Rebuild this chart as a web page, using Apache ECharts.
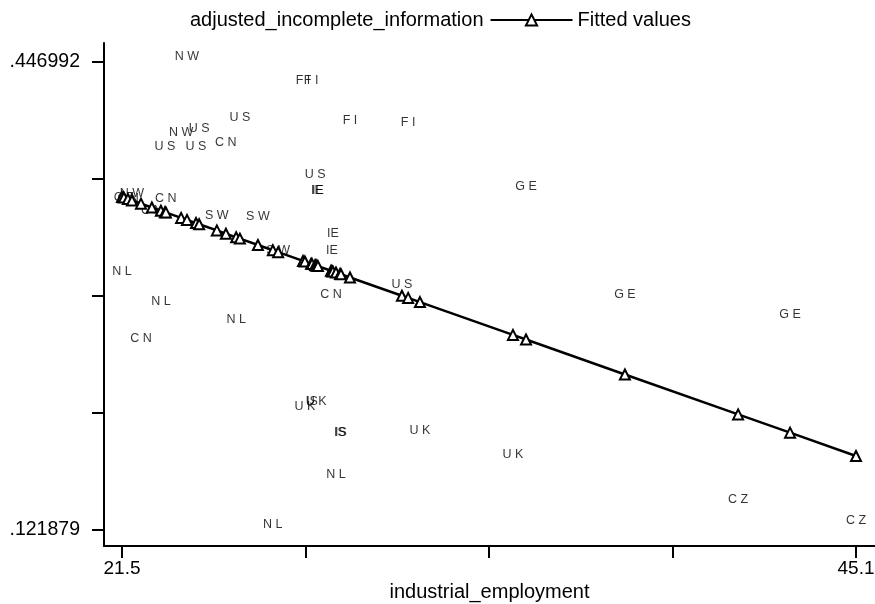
<!DOCTYPE html>
<html>
<head>
  <meta charset="utf-8">
  <title>industrial_employment</title>
  <script src="https://cdn.jsdelivr.net/npm/echarts@6/dist/echarts.min.js"></script>
  <style>
    html, body { margin: 0; padding: 0; background: #fff; }
    #main { width: 875px; height: 604px; }
  </style>
</head>
<body>
  <div id="main"></div>
  <script type="text/javascript">
    // country labels and their (industrial_employment, adjusted_incomplete_information)
    var countries = ['NW', 'FI', 'FI', 'US', 'FI', 'FI', 'NW', 'US', 'US', 'US', 'CN',
      'US', 'IE', 'IE', 'GE', 'CZ', 'NW', 'CN', 'CN', 'CN', 'SW', 'SW', 'SW', 'IE', 'IE',
      'NL', 'US', 'CN', 'NL', 'GE', 'NL', 'GE', 'CN', 'UK', 'UK', 'IS', 'IS', 'IS', 'UK',
      'UK', 'NL', 'CZ', 'NL', 'CZ'];
    var employment = [23.59, 27.32, 27.58, 25.29, 28.83, 30.70, 23.40, 23.98, 22.88, 23.88, 24.84,
      27.71, 27.77, 27.80, 34.49, 21.56, 21.82, 21.69, 22.91, 22.46, 24.55, 25.87, 26.52, 28.28, 28.25,
      21.50, 30.50, 28.22, 22.75, 37.67, 25.17, 42.98, 22.11, 27.38, 27.74, 27.61, 28.51, 28.54, 31.08,
      34.07, 28.38, 41.31, 26.35, 45.10];
    var information = [0.44699, 0.43032, 0.43032, 0.40461, 0.40253, 0.40114, 0.39419, 0.39697, 0.38447, 0.38447, 0.38725,
      0.36502, 0.35390, 0.35390, 0.35668, 0.34904, 0.35182, 0.34835, 0.34835, 0.34001, 0.33653, 0.33584, 0.31222, 0.32403, 0.31222,
      0.29763, 0.28860, 0.28165, 0.27679, 0.28165, 0.26428, 0.26776, 0.25108, 0.20384, 0.20732, 0.20732, 0.18578, 0.18578, 0.18717,
      0.17050, 0.15661, 0.13924, 0.12188, 0.12465];

    // fitted values, sorted by industrial_employment
    var fitX = [21.50, 21.56, 21.69, 21.82, 22.11, 22.46, 22.75, 22.88, 22.91, 23.40, 23.59,
      23.88, 23.98, 24.55, 24.84, 25.17, 25.29, 25.87, 26.35, 26.52, 27.32, 27.38,
      27.58, 27.61, 27.71, 27.74, 27.77, 27.80, 28.22, 28.25, 28.28, 28.38, 28.51,
      28.54, 28.83, 30.50, 30.70, 31.08, 34.07, 34.49, 37.67, 41.31, 42.98, 45.10];
    var fitValues = [0.3532, 0.3528, 0.3518, 0.3508, 0.3486, 0.3459, 0.3437, 0.3427, 0.3425, 0.3387, 0.3373,
      0.3351, 0.3343, 0.3300, 0.3277, 0.3252, 0.3243, 0.3199, 0.3162, 0.3149, 0.3088, 0.3084,
      0.3068, 0.3066, 0.3059, 0.3056, 0.3054, 0.3052, 0.3020, 0.3017, 0.3015, 0.3008, 0.2998,
      0.2995, 0.2973, 0.2846, 0.2831, 0.2802, 0.2574, 0.2542, 0.2299, 0.2022, 0.1895, 0.1733];

    var xTicks = [21.5, 27.4, 33.3, 39.2, 45.1];
    var xLabels = [21.5, 45.1];
    var yTicks = [0.121879, 0.2031573, 0.2844355, 0.3657138, 0.446992];
    var yLabels = [0.121879, 0.446992];

    var scatterData = [];
    for (var i = 0; i < countries.length; i++) {
      scatterData.push([employment[i], information[i], countries[i]]);
    }
    var fitData = [];
    for (var j = 0; j < fitX.length; j++) {
      fitData.push([fitX[j], fitValues[j]]);
    }

    var font = 'Liberation Sans, Arial, sans-serif';
    var myChart = echarts.init(document.getElementById('main'));

    var option = {
      animation: false,
      backgroundColor: '#fff',
      textStyle: { fontFamily: font },
      legend: {
        left: 98,
        top: 5,
        itemWidth: 82,
        itemHeight: 14,
        itemGap: 6,
        selectedMode: false,
        textStyle: { fontSize: 20, color: '#000', fontFamily: font },
        data: [
          { name: 'adjusted_incomplete_information', icon: 'none' },
          { name: 'Fitted values' }
        ]
      },
      grid: { left: 104, right: 0, top: 43, bottom: 58, outerBoundsMode: 'none' },
      xAxis: {
        type: 'value',
        min: 20.921,
        max: 45.711,
        name: 'industrial_employment',
        nameLocation: 'middle',
        nameGap: 28,
        nameTextStyle: { fontSize: 20, color: '#000', fontFamily: font },
        axisLine: { lineStyle: { color: '#000', width: 2 } },
        axisTick: { length: 12, lineStyle: { color: '#000', width: 2 }, customValues: xTicks },
        axisLabel: {
          customValues: xLabels,
          margin: 13,
          fontSize: 19,
          color: '#000',
          fontFamily: font,
          formatter: function (v) { return String(v); }
        },
        splitLine: { show: false }
      },
      yAxis: {
        type: 'value',
        min: 0.11077,
        max: 0.46019,
        axisLine: { show: true, lineStyle: { color: '#000', width: 2 } },
        axisTick: { show: true, length: 12, lineStyle: { color: '#000', width: 2 }, customValues: yTicks },
        axisLabel: {
          customValues: yLabels,
          margin: 24,
          fontSize: 19.5,
          color: '#000',
          fontFamily: font,
          formatter: function (v) { return String(v).replace(/^0/, ''); }
        },
        splitLine: { show: false }
      },
      series: [{
        name: 'adjusted_incomplete_information',
        type: 'scatter',
        data: scatterData,
        symbol: 'circle',
        symbolSize: 1,
        silent: true,
        itemStyle: { color: 'rgba(0,0,0,0)' },
        label: {
          show: true,
          position: 'inside',
          offset: [0, -5],
          fontSize: 12.5,
          color: '#000',
          fontFamily: font,
          formatter: function (p) {
            var s = p.data[2];
            return s.charAt(0) === 'I' ? s : s.split('').join(' ');
          }
        }
      }, {
        name: 'Fitted values',
        type: 'line',
        data: fitData,
        symbol: 'triangle',
        symbolSize: 10,
        showAllSymbol: true,
        silent: true,
        itemStyle: { color: '#fff', borderColor: '#000', borderWidth: 2 },
        lineStyle: { color: '#000', width: 2.5 },
        z: 3
      }]
    };
    myChart.setOption(option);
  </script>
</body>
</html>
